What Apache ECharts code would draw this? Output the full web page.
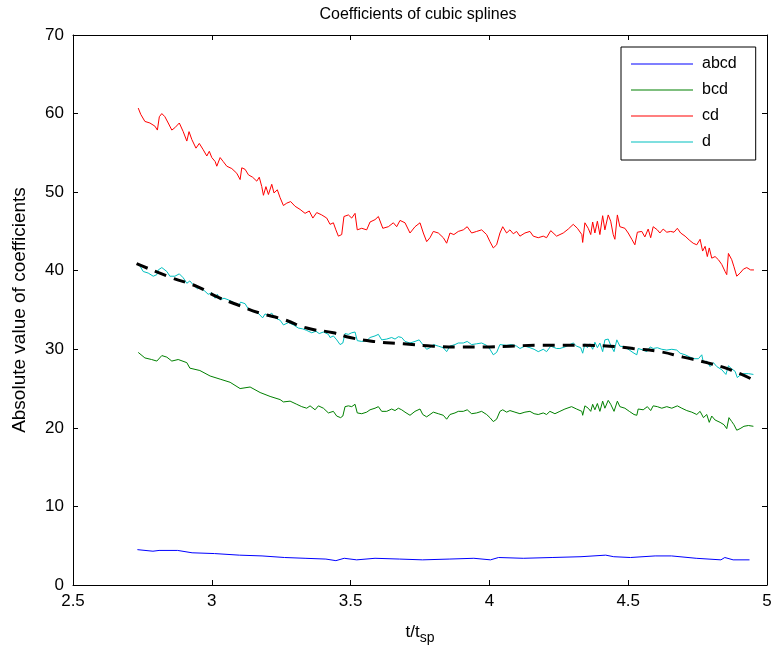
<!DOCTYPE html>
<html><head><meta charset="utf-8">
<script src="https://cdn.jsdelivr.net/npm/echarts@6/dist/echarts.min.js"></script>
<style>html,body{margin:0;padding:0;background:#fff}#c{width:779px;height:656px}</style>
</head><body><div id="c"></div>
<script>
const xTicks = [2.5, 3, 3.5, 4, 4.5, 5];
const yTicks = [0, 10, 20, 30, 40, 50, 60, 70];
const seriesNames = ['abcd', 'bcd', 'cd', 'd'];

const abcd = [[2.732,4.5],[2.788,4.3],[2.810,4.4],[2.877,4.4],[2.929,4.1],[3.010,4.0],[3.099,3.8],[3.181,3.7],[3.262,3.5],[3.336,3.4],[3.411,3.3],[3.447,3.1],[3.477,3.4],[3.522,3.2],[3.588,3.4],[3.677,3.3],[3.759,3.2],[3.855,3.3],[3.944,3.4],[4.004,3.2],[4.033,3.5],[4.122,3.4],[4.226,3.5],[4.330,3.6],[4.419,3.8],[4.448,3.6],[4.508,3.5],[4.597,3.7],[4.656,3.7],[4.745,3.4],[4.834,3.2],[4.848,3.5],[4.878,3.2],[4.937,3.2]];

const bcd = [[2.735,29.6],[2.759,28.9],[2.783,28.7],[2.802,28.5],[2.820,29.2],[2.838,29.0],[2.856,28.5],[2.879,28.7],[2.910,28.3],[2.921,27.6],[2.957,27.3],[2.994,26.6],[3.030,26.2],[3.066,25.8],[3.102,25.0],[3.138,25.2],[3.174,24.5],[3.210,24.0],[3.246,23.6],[3.258,23.3],[3.282,23.4],[3.306,23.0],[3.324,22.7],[3.342,22.5],[3.354,22.8],[3.372,22.3],[3.384,22.8],[3.402,22.5],[3.420,21.9],[3.426,22.0],[3.438,22.1],[3.450,21.5],[3.464,21.3],[3.472,21.5],[3.480,22.7],[3.492,22.8],[3.504,22.7],[3.516,23.0],[3.524,21.9],[3.540,21.8],[3.558,22.0],[3.570,22.3],[3.588,22.5],[3.600,22.7],[3.612,22.1],[3.630,22.1],[3.648,22.4],[3.660,22.2],[3.672,22.5],[3.684,22.3],[3.696,22.0],[3.714,21.6],[3.732,22.1],[3.750,22.4],[3.760,21.7],[3.774,21.4],[3.786,21.7],[3.798,22.0],[3.816,21.8],[3.834,21.6],[3.846,21.1],[3.858,21.7],[3.876,21.9],[3.888,22.1],[3.906,22.1],[3.920,22.3],[3.936,21.8],[3.954,21.9],[3.972,22.1],[3.990,21.7],[4.002,21.3],[4.014,20.8],[4.026,21.1],[4.038,22.1],[4.048,22.3],[4.062,22.0],[4.074,22.2],[4.092,22.0],[4.110,21.8],[4.128,22.0],[4.146,22.1],[4.161,21.8],[4.176,21.7],[4.194,21.9],[4.206,21.7],[4.218,22.1],[4.236,21.8],[4.254,22.1],[4.272,22.4],[4.296,22.7],[4.314,22.4],[4.333,22.1],[4.336,21.6],[4.344,22.8],[4.356,22.5],[4.365,22.1],[4.372,23.0],[4.380,22.3],[4.389,23.1],[4.398,22.1],[4.408,23.4],[4.416,22.5],[4.428,23.5],[4.437,23.0],[4.449,22.1],[4.461,23.4],[4.470,22.7],[4.488,22.5],[4.504,22.1],[4.521,21.7],[4.531,21.6],[4.536,22.4],[4.554,22.3],[4.569,22.7],[4.581,22.2],[4.590,22.8],[4.605,22.7],[4.621,22.5],[4.639,22.7],[4.657,22.5],[4.677,22.8],[4.693,22.5],[4.711,22.2],[4.729,22.0],[4.747,21.7],[4.759,22.1],[4.771,21.3],[4.783,21.7],[4.792,20.7],[4.801,21.5],[4.813,21.0],[4.831,20.7],[4.845,20.4],[4.855,19.9],[4.863,21.3],[4.873,20.8],[4.881,20.4],[4.891,19.7],[4.903,19.9],[4.917,20.2],[4.933,20.3],[4.951,20.2]];

const cd = [[2.735,60.7],[2.744,59.9],[2.759,59.0],[2.777,58.8],[2.795,58.4],[2.804,57.9],[2.811,59.6],[2.820,60.0],[2.831,59.6],[2.843,58.8],[2.856,57.9],[2.867,58.2],[2.883,58.8],[2.897,57.7],[2.910,56.5],[2.918,57.7],[2.928,56.7],[2.943,55.6],[2.955,56.2],[2.969,55.4],[2.982,54.6],[2.991,55.2],[3.000,54.4],[3.012,53.9],[3.018,53.3],[3.030,54.4],[3.041,53.9],[3.054,53.3],[3.072,53.0],[3.090,52.4],[3.102,51.6],[3.108,53.1],[3.120,52.9],[3.132,52.2],[3.147,51.9],[3.162,51.4],[3.171,51.9],[3.180,50.7],[3.186,49.6],[3.195,50.7],[3.204,49.7],[3.216,51.0],[3.224,49.9],[3.236,50.3],[3.246,49.3],[3.258,48.3],[3.270,48.6],[3.284,48.8],[3.300,48.2],[3.318,47.8],[3.336,47.3],[3.351,47.6],[3.364,46.7],[3.378,47.4],[3.396,47.1],[3.414,46.7],[3.426,45.9],[3.438,46.1],[3.447,45.2],[3.456,44.4],[3.468,44.6],[3.476,46.9],[3.492,47.1],[3.504,46.7],[3.516,47.3],[3.524,45.2],[3.540,45.4],[3.558,45.2],[3.570,46.2],[3.588,46.5],[3.600,46.9],[3.616,45.4],[3.636,45.6],[3.654,46.1],[3.666,45.6],[3.678,46.4],[3.696,46.1],[3.714,44.8],[3.732,45.6],[3.750,46.1],[3.762,44.8],[3.774,43.7],[3.786,44.2],[3.798,45.0],[3.816,44.8],[3.834,44.2],[3.846,43.5],[3.858,44.8],[3.872,44.6],[3.888,45.0],[3.906,45.2],[3.920,45.6],[3.936,44.8],[3.954,45.0],[3.972,45.2],[3.990,44.6],[4.002,43.7],[4.014,42.9],[4.026,43.3],[4.038,44.8],[4.048,45.6],[4.062,44.8],[4.074,45.2],[4.086,44.7],[4.098,45.0],[4.110,44.4],[4.128,44.8],[4.146,45.0],[4.158,44.4],[4.176,44.2],[4.194,44.4],[4.206,44.2],[4.221,45.1],[4.242,44.4],[4.248,44.3],[4.266,44.8],[4.284,45.3],[4.302,45.9],[4.317,45.4],[4.333,44.6],[4.336,43.6],[4.344,46.1],[4.356,45.4],[4.365,44.6],[4.372,46.2],[4.380,44.8],[4.389,46.3],[4.398,44.6],[4.408,47.0],[4.416,45.2],[4.428,47.1],[4.437,46.3],[4.446,44.6],[4.452,44.0],[4.461,47.1],[4.470,45.6],[4.488,45.4],[4.500,44.8],[4.513,44.0],[4.524,43.3],[4.533,44.9],[4.549,45.0],[4.560,44.3],[4.572,45.3],[4.581,44.2],[4.590,45.6],[4.605,45.2],[4.614,44.8],[4.626,45.3],[4.639,44.9],[4.653,45.0],[4.665,44.9],[4.677,45.4],[4.689,44.8],[4.705,44.4],[4.720,43.9],[4.734,43.5],[4.747,43.3],[4.759,44.0],[4.768,42.5],[4.777,43.1],[4.785,41.8],[4.792,42.9],[4.801,41.6],[4.813,41.8],[4.825,41.4],[4.837,40.8],[4.849,39.9],[4.855,39.5],[4.861,42.2],[4.873,41.4],[4.881,40.5],[4.891,39.3],[4.903,39.7],[4.915,40.2],[4.927,40.4],[4.941,40.1],[4.953,40.1]];

const d = [[2.741,40.6],[2.753,39.9],[2.771,39.7],[2.789,39.3],[2.802,39.5],[2.807,40.1],[2.820,40.4],[2.838,39.9],[2.849,39.3],[2.867,39.3],[2.883,39.6],[2.897,39.1],[2.910,38.4],[2.921,38.7],[2.933,38.2],[2.948,37.7],[2.957,37.9],[2.975,37.4],[2.987,37.0],[3.000,37.2],[3.012,36.5],[3.020,37.0],[3.030,36.3],[3.044,36.5],[3.059,36.3],[3.077,36.0],[3.095,35.5],[3.104,36.0],[3.120,35.8],[3.132,35.1],[3.149,34.8],[3.167,34.6],[3.183,34.0],[3.192,34.5],[3.204,34.3],[3.216,34.6],[3.228,34.0],[3.246,33.7],[3.258,33.1],[3.276,33.4],[3.294,33.1],[3.312,32.7],[3.327,32.6],[3.342,32.4],[3.360,32.1],[3.375,32.3],[3.387,32.0],[3.402,32.2],[3.420,31.9],[3.426,31.5],[3.438,31.7],[3.450,31.2],[3.462,30.6],[3.472,30.8],[3.480,32.0],[3.492,31.9],[3.504,32.1],[3.516,32.2],[3.524,31.1],[3.540,31.0],[3.558,31.1],[3.570,31.5],[3.588,31.7],[3.600,31.9],[3.612,31.2],[3.630,31.3],[3.648,31.5],[3.660,31.3],[3.672,31.6],[3.684,31.5],[3.696,31.0],[3.714,30.8],[3.732,31.0],[3.747,31.2],[3.760,30.6],[3.774,30.0],[3.786,30.2],[3.798,30.6],[3.816,30.4],[3.834,30.2],[3.846,29.7],[3.858,30.4],[3.876,30.6],[3.888,30.8],[3.906,30.8],[3.920,31.0],[3.936,30.6],[3.954,30.7],[3.972,30.8],[3.990,30.5],[4.002,30.0],[4.014,29.3],[4.026,29.6],[4.038,30.6],[4.044,30.8],[4.062,30.5],[4.080,30.6],[4.098,30.4],[4.110,30.1],[4.128,30.4],[4.146,30.2],[4.161,30.0],[4.176,29.7],[4.194,30.0],[4.206,29.7],[4.221,30.4],[4.242,30.1],[4.254,30.1],[4.272,30.3],[4.290,30.6],[4.302,30.8],[4.314,30.4],[4.329,30.2],[4.336,29.5],[4.344,30.7],[4.353,30.2],[4.362,30.7],[4.372,30.0],[4.380,30.9],[4.389,30.2],[4.398,30.8],[4.408,29.7],[4.416,31.2],[4.428,31.3],[4.437,30.5],[4.449,29.7],[4.459,31.2],[4.470,30.4],[4.488,30.3],[4.504,29.9],[4.521,29.5],[4.531,29.3],[4.536,30.1],[4.554,29.9],[4.567,29.7],[4.579,30.3],[4.590,30.1],[4.605,30.2],[4.621,30.0],[4.639,29.9],[4.657,30.0],[4.675,29.9],[4.687,29.5],[4.705,29.3],[4.723,29.0],[4.737,28.8],[4.753,28.8],[4.765,29.3],[4.771,28.3],[4.783,28.5],[4.795,27.8],[4.807,28.3],[4.819,27.8],[4.837,27.4],[4.852,26.8],[4.861,27.9],[4.873,27.5],[4.885,27.2],[4.893,26.4],[4.903,26.7],[4.917,26.9],[4.933,26.9],[4.951,26.8]];

const fit = [[2.729,40.9],[2.856,39.1],[2.946,38.0],[3.018,36.7],[3.090,35.7],[3.174,34.6],[3.258,33.8],[3.342,32.7],[3.438,32.1],[3.498,31.5],[3.582,31.0],[3.690,30.7],[3.798,30.4],[3.894,30.3],[3.978,30.3],[4.074,30.4],[4.170,30.5],[4.248,30.5],[4.350,30.5],[4.434,30.4],[4.518,30.1],[4.614,29.7],[4.698,29.0],[4.783,28.3],[4.867,27.4],[4.951,26.1]];

const FONT = 'Liberation Sans, Arial, Helvetica, sans-serif';
const chart = echarts.init(document.getElementById('c'), null, {renderer: 'canvas'});
const axisCommon = {
  axisLine: {show: true, onZero: false, lineStyle: {color: '#000', width: 1}},
  axisTick: {show: true, inside: true, length: 5, lineStyle: {color: '#000'}},
  splitLine: {show: false}
};
function lineSeries(name, data, color) {
  return {name, type: 'line', data, showSymbol: false, symbol: 'none', smooth: false,
    lineStyle: {color, width: 1}, itemStyle: {color}, z: 3};
}
chart.setOption({
  animation: false,
  backgroundColor: '#fff',
  title: {text: 'Coefficients of cubic splines', left: 413, top: 2, textAlign: 'center',
    textStyle: {fontFamily: FONT, fontSize: 16, fontWeight: 'normal', color: '#000'}},
  grid: {left: 73, top: 35, width: 694, height: 550, containLabel: false},
  legend: {
    data: seriesNames, orient: 'vertical', left: 621, top: 47,
    icon: 'rect', itemWidth: 62, itemHeight: 1.2,
    backgroundColor: '#fff', borderColor: '#000', borderWidth: 1,
    padding: [8, 19, 9, 10], itemGap: 8,
    textStyle: {fontFamily: FONT, fontSize: 16, lineHeight: 18, color: '#000', padding: [0, 0, 0, 4]}
  },
  xAxis: [
    Object.assign({}, axisCommon, {type: 'value', position: 'bottom', min: xTicks[0], max: xTicks[xTicks.length - 1], interval: 0.5,
      axisLabel: {color: '#000', fontFamily: FONT, fontSize: 17, margin: 8, formatter: v => String(v)},
      name: 't/t{s|sp}', nameLocation: 'middle', nameGap: 34,
      nameTextStyle: {color: '#000', fontFamily: FONT, fontSize: 17, rich: {s: {fontFamily: FONT, fontSize: 14, color: '#000', padding: [12, 0, 0, 0]}}}}),
    Object.assign({}, axisCommon, {type: 'value', position: 'top', min: xTicks[0], max: xTicks[xTicks.length - 1], interval: 0.5, axisLabel: {show: false}})
  ],
  yAxis: [
    Object.assign({}, axisCommon, {type: 'value', position: 'left', min: yTicks[0], max: yTicks[yTicks.length - 1], interval: 10,
      axisLabel: {color: '#000', fontFamily: FONT, fontSize: 17, margin: 9},
      name: 'Absolute value of coefficients', nameLocation: 'middle', nameGap: 44, nameRotate: 90,
      nameTextStyle: {color: '#000', fontFamily: FONT, fontSize: 19}}),
    Object.assign({}, axisCommon, {type: 'value', position: 'right', min: yTicks[0], max: yTicks[yTicks.length - 1], interval: 10, axisLabel: {show: false}})
  ],
  series: [
    lineSeries('abcd', abcd, '#0000ff'),
    lineSeries('bcd', bcd, '#008000'),
    lineSeries('cd', cd, '#ff0000'),
    lineSeries('d', d, '#00bfbf'),
    {name: 'fit', type: 'line', data: fit, showSymbol: false, symbol: 'none', smooth: true,
      lineStyle: {color: '#000', width: 3, type: [12, 8]}, z: 4}
  ]
});
</script></body></html>
